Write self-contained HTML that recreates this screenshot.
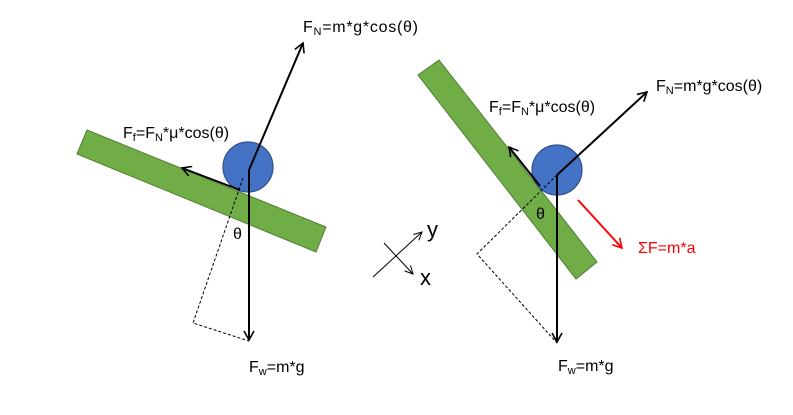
<!DOCTYPE html>
<html><head><style>body{margin:0;background:#fff}svg{display:block}text{font-family:"Liberation Sans",sans-serif;font-size:16px}</style></head><body>
<svg width="793" height="415" viewBox="0 0 793 415" xmlns="http://www.w3.org/2000/svg">
<defs>
<marker id="a" markerWidth="12" markerHeight="12" refX="10" refY="6" orient="auto" markerUnits="userSpaceOnUse"><path d="M1,1 L10,6 L1,11" fill="none" stroke="#000" stroke-width="1.6"/></marker>
<marker id="s" markerWidth="12" markerHeight="12" refX="10" refY="6" orient="auto" markerUnits="userSpaceOnUse"><path d="M2,2 L10,6 L2,10" fill="none" stroke="#000" stroke-width="1"/></marker>
<marker id="r" markerWidth="12" markerHeight="12" refX="10" refY="6" orient="auto" markerUnits="userSpaceOnUse"><path d="M1,1 L10,6 L1,11" fill="none" stroke="#f00" stroke-width="1.6"/></marker>
</defs>
<polygon points="77,154 87,130 326,227 316,252" fill="#70ad47" stroke="#507e32" stroke-width="1"/>
<circle cx="248" cy="167" r="25" fill="#4472c4" stroke="#2f528f" stroke-width="1.2"/>
<polyline points="243,178 193,323 249,341" fill="none" stroke="#000" stroke-width="1" stroke-dasharray="3,2"/>
<line x1="249" y1="170" x2="303" y2="43" stroke="#000" stroke-width="2" marker-end="url(#a)"/>
<line x1="240" y1="190" x2="182" y2="168" stroke="#000" stroke-width="2" marker-end="url(#a)"/>
<line x1="249" y1="170" x2="249" y2="340" stroke="#000" stroke-width="2" marker-end="url(#a)"/>
<text x="233" y="239">θ</text>
<text x="303" y="32" textLength="115">F<tspan font-size="11" dy="3">N</tspan><tspan dy="-3">=m*g*cos(θ)</tspan></text>
<text x="123" y="138">F<tspan font-size="11" dy="3">f</tspan><tspan dy="-3">=F</tspan><tspan font-size="11" dy="3">N</tspan><tspan dy="-3">*μ*cos(θ)</tspan></text>
<text x="249" y="372">F<tspan font-size="11" dy="3">w</tspan><tspan dy="-3">=m*g</tspan></text>
<line x1="373" y1="277" x2="422" y2="232" stroke="#000" stroke-width="1" marker-end="url(#s)"/>
<line x1="384" y1="243" x2="413" y2="274" stroke="#000" stroke-width="1" marker-end="url(#s)"/>
<text x="427" y="237" style="font-size:22px">y</text>
<text x="420" y="285" style="font-size:22px">x</text>
<polygon points="418,75 439,60 597,262 576,279" fill="#70ad47" stroke="#507e32" stroke-width="1"/>
<circle cx="557" cy="170" r="25" fill="#4472c4" stroke="#2f528f" stroke-width="1.2"/>
<polyline points="557,175 477,254 557,343" fill="none" stroke="#000" stroke-width="1" stroke-dasharray="3,2"/>
<line x1="557" y1="175" x2="647" y2="92" stroke="#000" stroke-width="2" marker-end="url(#a)"/>
<line x1="540" y1="186" x2="509" y2="147" stroke="#000" stroke-width="2" marker-end="url(#a)"/>
<line x1="557" y1="175" x2="557" y2="342" stroke="#000" stroke-width="2" marker-end="url(#a)"/>
<line x1="578" y1="200" x2="622" y2="248" stroke="#f00" stroke-width="2" marker-end="url(#r)"/>
<text x="536" y="219">θ</text>
<text x="656" y="91">F<tspan font-size="11" dy="3">N</tspan><tspan dy="-3">=m*g*cos(θ)</tspan></text>
<text x="489" y="112">F<tspan font-size="11" dy="3">f</tspan><tspan dy="-3">=F</tspan><tspan font-size="11" dy="3">N</tspan><tspan dy="-3">*μ*cos(θ)</tspan></text>
<text x="558" y="371">F<tspan font-size="11" dy="3">w</tspan><tspan dy="-3">=m*g</tspan></text>
<text x="638" y="253" fill="#f00">ΣF=m*a</text>
</svg>
</body></html>
